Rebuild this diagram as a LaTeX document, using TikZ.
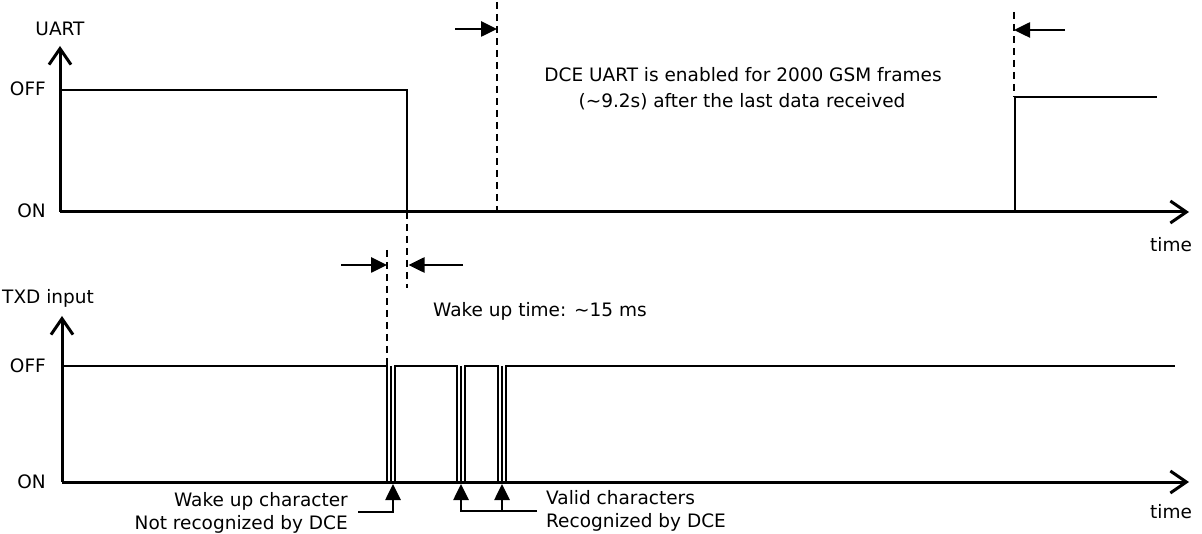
\documentclass[tikz,border=0pt]{standalone}
\usepackage{fontspec}
\setmainfont{DejaVu Sans}
\usetikzlibrary{arrows.meta}
\begin{document}
\begin{tikzpicture}[
    x=1pt, y=-1pt,
    font=\fontsize{18.5}{22}\selectfont,
    axis/.style={line width=3pt, -{Straight Barb[length=16pt,width=22pt]}},
    sig/.style={line width=1.5pt},
    guide/.style={line width=1.8pt, dash pattern=on 7pt off 5pt},
    pointer/.style={line width=2.6pt, -{Triangle[length=16pt,width=15pt]}},
    lbl/.style={inner sep=0pt}
    ]
    \useasboundingbox (0,0) rectangle (1202,534);
    % upper chart: UART
    \coordinate (uo) at (60,212);
    \coordinate (uy) at (60,46);
    \coordinate (ux) at (1189,212);
    \draw[axis] (uo) -- (uy);
    \draw[axis] (uo) -- (ux);
    \node[lbl, anchor=base] (uart) at (60,36) {UART};
    \node[lbl, anchor=base east] (uoff) at (46,96) {OFF};
    \node[lbl, anchor=base east] (uon) at (46,218) {ON};
    \node[lbl, anchor=base] (utime) at (1171,252) {time};
    \draw[sig] (60,90) -- (407,90) -- (407,212) -- (1015,212) -- (1015,97) -- (1157,97);
    % lower chart: TXD input
    \coordinate (lo) at (62,482);
    \coordinate (ly) at (62,316);
    \coordinate (lx) at (1189,482);
    \draw[axis] (lo) -- (ly);
    \draw[axis] (lo) -- (lx);
    \node[lbl, anchor=base west] (txd) at (2,304) {TXD input};
    \node[lbl, anchor=base east] (loff) at (46,373) {OFF};
    \node[lbl, anchor=base east] (lon) at (46,488) {ON};
    \node[lbl, anchor=base] (ltime) at (1171,518) {time};
    \draw[sig] (62,366) -- (387,366) -- (387,482) -- (395,482) -- (395,366)
        -- (457,366) -- (457,482) -- (465,482) -- (465,366)
        -- (498,366) -- (498,482) -- (506,482) -- (506,366) -- (1175,366);
    \foreach \x in {391,461,502}
        \draw[sig] (\x,366) -- (\x,482);
    % guides
    \coordinate (g1a) at (497,2);    \coordinate (g1b) at (497,212);
    \coordinate (g2a) at (1014,12);  \coordinate (g2b) at (1014,97);
    \coordinate (g3a) at (407,212);  \coordinate (g3b) at (407,288);
    \coordinate (g4a) at (387,250);  \coordinate (g4b) at (387,366);
    \draw[guide] (g1a) -- (g1b);
    \draw[guide] (g2a) -- (g2b);
    \draw[guide] (g3a) -- (g3b);
    \draw[guide] (g4a) -- (g4b);
    % window arrows
    \coordinate (w1) at (455,29);  \coordinate (w1t) at (g1a |- w1);
    \coordinate (w2) at (1065,30); \coordinate (w2t) at (g2a |- w2);
    \coordinate (w3) at (341,265); \coordinate (w3t) at (g4a |- w3);
    \coordinate (w4) at (463,265); \coordinate (w4t) at ([xshift=1.5pt]g3a |- w4);
    \draw[pointer] (w1) -- (w1t);
    \draw[pointer] (w2) -- (w2t);
    \draw[pointer] (w3) -- (w3t);
    \draw[pointer] (w4) -- (w4t);
    \node[lbl, anchor=base] (enabled) at (743,82) {DCE UART is enabled for 2000 GSM frames};
    \node[lbl, anchor=base] (after) at (742,108) {(\char`\~9.2s) after the last data received};
    \node[lbl, anchor=base west] (waketime) at (433,317) {Wake up time: \char`\~15 ms};
    % character markers
    \coordinate (c1) at (393,484);
    \coordinate (c2) at (461,484);
    \coordinate (c3) at (502,484);
    \coordinate (r1) at (358,512);
    \coordinate (r2) at (537,511);
    \draw[pointer] (r1) -| (c1);
    \draw[pointer] (r2) -| (c2);
    \draw[pointer] (c3 |- r2) -- (c3);
    \node[lbl, anchor=base east] (wakechar) at (348,506) {Wake up character};
    \node[lbl, anchor=base east] (notrec) at (348,529) {Not recognized by DCE};
    \node[lbl, anchor=base west] (valid) at (546,504) {Valid characters};
    \node[lbl, anchor=base west] (rec) at (546,527) {Recognized by DCE};
\end{tikzpicture}
\end{document}
